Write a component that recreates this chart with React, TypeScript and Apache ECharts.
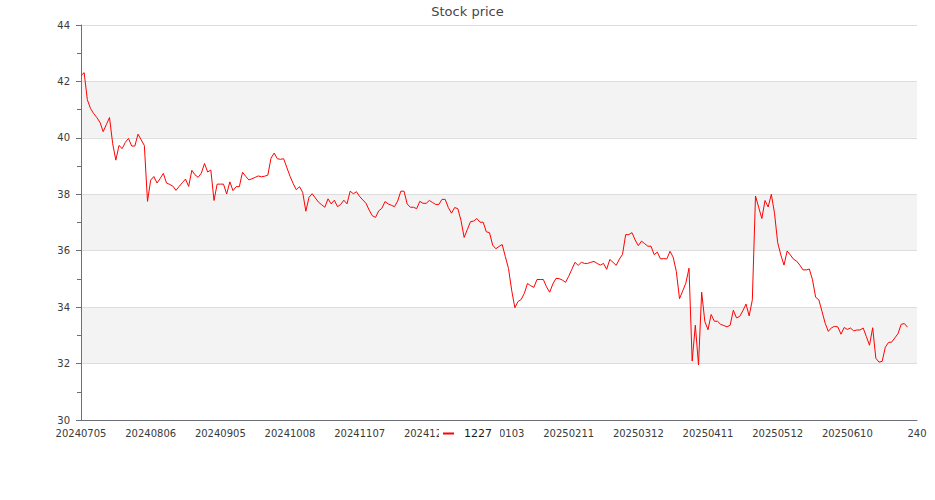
import React, { useEffect, useRef } from "react";
import * as echarts from "echarts";

// Tick labels shown on the category axis (every 22nd category)
const tickLabels = [
  "20240705", "20240806", "20240905", "20241008", "20241107", "20241209",
  "20250103", "20250211", "20250312", "20250411", "20250512", "20250610", "240",
];
const labelStep = 22;
const categoryCount = 265;

// Closing prices of 1227
const prices = [
  42.21, 42.31, 41.35, 41.04, 40.86, 40.72, 40.55, 40.22, 40.47, 40.72,
  39.80, 39.21, 39.73, 39.62, 39.84, 39.98, 39.71, 39.71, 40.13, 39.93,
  39.73, 37.75, 38.50, 38.63, 38.40, 38.56, 38.74, 38.40, 38.35, 38.29,
  38.14, 38.28, 38.41, 38.54, 38.28, 38.85, 38.69, 38.60, 38.75, 39.09,
  38.79, 38.86, 37.78, 38.36, 38.36, 38.36, 38.01, 38.44, 38.13, 38.27,
  38.27, 38.78, 38.64, 38.51, 38.55, 38.60, 38.65, 38.62, 38.64, 38.68,
  39.28, 39.46, 39.26, 39.24, 39.26, 38.95, 38.64, 38.38, 38.16, 38.27,
  38.07, 37.40, 37.89, 38.02, 37.87, 37.72, 37.63, 37.54, 37.84, 37.66,
  37.79, 37.56, 37.64, 37.79, 37.66, 38.11, 38.02, 38.09, 37.92, 37.80,
  37.68, 37.44, 37.24, 37.18, 37.41, 37.50, 37.74, 37.66, 37.61, 37.56,
  37.76, 38.11, 38.11, 37.66, 37.54, 37.54, 37.49, 37.75, 37.68, 37.68,
  37.78, 37.71, 37.64, 37.64, 37.82, 37.82, 37.53, 37.33, 37.53, 37.49,
  37.07, 36.47, 36.75, 37.03, 37.05, 37.14, 37.01, 37.01, 36.67, 36.64,
  36.20, 36.07, 36.15, 36.22, 35.79, 35.37, 34.60, 33.98, 34.20, 34.27,
  34.49, 34.84, 34.76, 34.70, 34.98, 34.98, 34.98, 34.72, 34.53, 34.82,
  35.02, 35.01, 34.96, 34.88, 35.09, 35.34, 35.59, 35.48, 35.59, 35.55,
  35.55, 35.59, 35.62, 35.55, 35.49, 35.55, 35.34, 35.69, 35.59, 35.48,
  35.70, 35.87, 36.57, 36.57, 36.64, 36.38, 36.18, 36.34, 36.25, 36.16,
  36.16, 35.86, 35.95, 35.71, 35.72, 35.71, 35.98, 35.77, 35.26, 34.30,
  34.57, 34.85, 35.38, 32.09, 33.36, 31.95, 34.53, 33.49, 33.20, 33.74,
  33.50, 33.50, 33.39, 33.35, 33.30, 33.36, 33.89, 33.62, 33.67, 33.87,
  34.11, 33.69, 34.26, 37.94, 37.54, 37.14, 37.78, 37.55, 38.00, 37.33,
  36.29, 35.85, 35.49, 35.99, 35.85, 35.70, 35.63, 35.49, 35.32, 35.32,
  35.35, 34.97, 34.35, 34.26, 33.85, 33.43, 33.14, 33.27, 33.32, 33.30,
  33.04, 33.28, 33.21, 33.26, 33.16, 33.19, 33.19, 33.26, 32.96, 32.65,
  33.27, 32.19, 32.05, 32.08, 32.58, 32.75, 32.76, 32.91, 33.06, 33.39,
  33.42, 33.29,
];

const seriesName = "1227";
const yTicks = { min: 30, max: 44, interval: 2 };

function buildCategories(): string[] {
  const out: string[] = [];
  const d = new Date(Date.UTC(2024, 6, 5));
  const pad = (n: number) => (n < 10 ? "0" + n : "" + n);
  while (out.length < categoryCount) {
    const wd = d.getUTCDay();
    if (wd !== 0 && wd !== 6) {
      out.push(`${d.getUTCFullYear()}${pad(d.getUTCMonth() + 1)}${pad(d.getUTCDate())}`);
    }
    d.setUTCDate(d.getUTCDate() + 1);
  }
  tickLabels.forEach((t, k) => {
    if (k * labelStep < out.length) out[k * labelStep] = t;
  });
  return out;
}

export default function App() {
  const ref = useRef<HTMLDivElement>(null);
  useEffect(() => {
    if (!ref.current) return;
    const chart = echarts.init(ref.current, undefined, { renderer: "svg" });
    const categories = buildCategories();
    chart.setOption({
      animation: false,
      backgroundColor: "#ffffff",
      textStyle: { fontFamily: "DejaVu Sans" },
      title: {
        text: "Stock price",
        left: "center",
        top: 0,
        textStyle: { fontSize: 13, fontWeight: "normal", color: "#464646" },
      },
      legend: {
        data: [{ name: seriesName, icon: "rect" }],
        left: "center",
        top: 426,
        padding: [2, 8, 2, 4],
        itemWidth: 11,
        itemHeight: 2,
        itemStyle: { color: "#ff0000" },
        backgroundColor: "#ffffff",
        textStyle: { fontSize: 11, color: "#1a1a1a", padding: [0, 0, 0, 5] },
      },
      grid: { left: 81, right: 18, top: 25, bottom: 80, containLabel: false },
      xAxis: {
        type: "category",
        data: categories,
        boundaryGap: false,
        axisLine: { lineStyle: { color: "#6e7079" } },
        axisTick: { show: false },
        axisLabel: { interval: labelStep - 1, fontSize: 10, color: "#3a3a3a", margin: 8 },
        splitLine: { show: false },
      },
      yAxis: {
        type: "value",
        min: yTicks.min,
        max: yTicks.max,
        interval: yTicks.interval,
        axisLine: { show: true, lineStyle: { color: "#6e7079" } },
        axisTick: { show: true, length: 5, lineStyle: { color: "#6e7079" } },
        minorTick: { show: true, splitNumber: 2, length: 4, lineStyle: { color: "#6e7079" } },
        axisLabel: { fontSize: 10, color: "#3a3a3a", margin: 11 },
        splitLine: { show: true, lineStyle: { color: "#dddddd" } },
        splitArea: { show: true, areaStyle: { color: ["#ffffff", "#f3f3f3"] } },
      },
      series: [
        {
          name: seriesName,
          type: "line",
          data: prices,
          showSymbol: false,
          symbol: "none",
          color: "#ff0000",
          lineStyle: { color: "#ff0000", width: 1 },
        },
      ],
    });
    return () => chart.dispose();
  }, []);
  return (
    <div
      ref={ref}
      style={{ position: "absolute", left: 0, top: 0, width: 935, height: 500 }}
    />
  );
}
